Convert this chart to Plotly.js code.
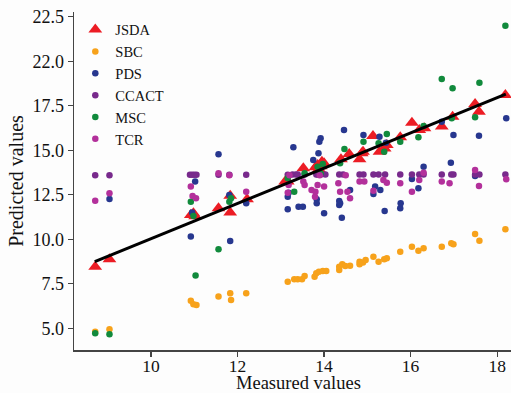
<!DOCTYPE html>
<html><head><meta charset="utf-8">
<script src="https://cdn.plot.ly/plotly-3.0.1.min.js"></script>
<style>html,body{margin:0;padding:0;background:#fdfdfd}#c{width:511px;height:393px}</style>
</head><body><div id="c"></div>
<script>
const jsdaX=[8.71,9.04,10.92,10.98,11.02,11.56,11.83,11.83,12.22,13.10,13.16,13.52,13.80,13.85,13.88,13.92,13.95,14.00,14.39,14.58,14.82,14.87,14.90,15.13,15.28,15.40,15.45,15.76,16.03,16.20,16.32,16.72,16.97,17.49,17.58,18.19];
const jsdaY=[8.46,8.88,11.36,11.46,11.30,11.74,11.50,12.45,12.25,13.24,13.24,13.99,14.05,14.17,13.95,14.10,14.35,14.27,14.49,14.79,14.49,14.83,14.92,15.80,14.92,15.10,15.30,15.73,16.55,16.14,16.24,16.33,16.89,17.60,17.17,18.10];
const sbcX=[8.71,9.04,10.92,10.98,11.05,11.56,11.83,11.85,12.20,13.16,13.31,13.39,13.49,13.55,13.78,13.82,13.88,13.97,14.05,14.35,14.35,14.42,14.49,14.60,14.82,14.82,14.90,14.96,15.14,15.26,15.39,15.45,15.76,16.03,16.18,16.30,16.72,16.94,16.99,17.49,17.59,18.19];
const sbcY=[4.81,4.94,6.55,6.35,6.31,6.78,6.97,6.59,6.97,7.62,7.75,7.75,7.75,7.94,7.90,8.09,8.18,8.22,8.22,8.28,8.46,8.60,8.50,8.52,8.60,8.74,8.69,8.84,9.02,8.74,8.88,8.93,9.30,9.58,9.36,9.49,9.58,9.78,9.72,10.30,9.92,10.56];
const pdsX=[9.04,10.92,11.02,10.95,11.56,11.83,11.81,12.20,13.16,13.16,13.41,13.51,13.83,13.83,14.00,14.35,14.35,14.41,15.40,15.76,15.77,13.29,13.92,13.89,13.87,13.75,14.46,13.18,14.91,15.28,15.43,16.72,16.30,14.60,15.18,15.14,15.30,18.21,16.99,17.58,16.93,17.49,16.03,16.18,14.37];
const pdsY=[12.26,10.15,13.24,11.50,14.78,9.90,12.49,12.02,12.39,11.69,11.83,11.83,12.02,12.25,11.46,12.15,11.93,11.21,11.59,11.74,12.02,15.17,15.67,15.48,14.83,14.45,16.14,12.62,15.86,15.76,15.43,16.60,14.08,12.77,12.96,12.54,12.77,16.80,15.86,15.82,14.30,13.56,13.39,12.87,12.02];
const ccactX=[8.71,9.04,10.90,10.95,11.00,11.05,11.56,11.81,12.20,13.16,13.27,13.35,13.39,13.55,13.82,13.85,13.92,14.03,14.35,14.44,14.82,14.91,15.14,15.26,15.41,15.76,16.03,16.20,16.30,16.72,16.94,16.99,17.49,17.59,18.19];
const ccactY=[13.60,13.60,13.62,13.62,13.62,13.62,13.62,13.62,13.62,13.62,13.64,13.64,13.64,13.64,13.64,13.64,13.64,13.64,13.64,13.64,13.64,13.64,13.64,13.64,13.64,13.64,13.64,13.64,13.64,13.64,13.64,13.64,13.64,13.64,13.64];
const mscX=[8.71,9.04,11.03,11.56,10.92,10.98,11.81,11.85,13.16,13.31,13.55,13.85,13.92,13.97,14.37,14.47,14.91,15.26,15.39,15.45,15.76,16.18,16.30,16.72,16.97,16.95,17.49,17.59,18.19];
const mscY=[4.72,4.66,7.96,9.44,12.11,11.31,12.11,12.30,13.43,12.67,13.71,14.08,13.71,14.23,14.27,15.07,15.48,15.39,14.92,15.92,15.48,15.73,16.37,19.00,18.48,16.80,16.85,18.80,22.00];
const tcrX=[8.71,9.04,10.92,10.96,11.04,11.56,11.81,12.20,13.18,13.16,13.52,13.55,13.71,13.79,13.80,13.85,14.00,14.33,14.37,14.54,14.60,14.82,14.93,15.14,15.37,15.45,15.76,16.03,16.20,16.30,16.72,16.90,17.49,17.58,18.21,13.20,13.90,14.50];
const tcrY=[12.17,12.58,12.96,12.43,12.30,13.71,13.60,12.67,13.05,12.62,13.24,13.05,12.77,12.39,12.67,13.05,12.96,13.15,12.67,12.67,12.30,13.24,13.24,12.73,13.33,13.18,13.15,12.67,13.33,13.74,13.24,13.15,13.89,13.00,13.37,13.60,13.60,13.60];
const fitX=[8.70,18.20];
const fitY=[8.75,18.15];
const yTickVals=[5,7.5,10,12.5,15,17.5,20,22.5];
const yTickText=["5.0","7.5","10.0","12.5","15.0","17.5","22.0","22.5"];
const xTickVals=[10,12,14,16,18];
const xTitle='Measured values';
const yTitle='Predicted values';

const dot=(name,x,y,color)=>({type:'scatter',mode:'markers',name,x,y,marker:{color,size:6.5,line:{width:0}},cliponaxis:false});
const data=[
 {type:'scatter',mode:'markers',name:'JSDA',x:jsdaX,y:jsdaY,marker:{symbol:'triangle-up',color:'#ec1c24',size:12,line:{width:0}},cliponaxis:false},
 dot('SBC',sbcX,sbcY,'#f7a21b'),
 dot('PDS',pdsX,pdsY,'#27378f'),
 dot('CCACT',ccactX,ccactY,'#782a8c'),
 dot('MSC',mscX,mscY,'#118a3c'),
 dot('TCR',tcrX,tcrY,'#b3309b'),
 {type:'scatter',mode:'lines',x:fitX,y:fitY,line:{color:'#000',width:3},showlegend:false,hoverinfo:'skip'}
];
const font={family:'"Liberation Serif", "Times New Roman", serif',color:'#111'};
const layout={
 width:511,height:393,
 margin:{l:74,r:0,t:12,b:43},
 paper_bgcolor:'#fdfdfd',plot_bgcolor:'#fdfdfd',
 font:font,
 showlegend:true,
 legend:{x:0.003,y:0.995,xanchor:'left',yanchor:'top',bgcolor:'rgba(0,0,0,0)',font:{family:font.family,size:14.5,color:'#111'},itemwidth:30,tracegroupgap:0},
 xaxis:{range:[8.22,18.32],tickvals:xTickVals,ticks:'outside',ticklen:5,tickwidth:1.2,tickcolor:'#444',showline:true,linecolor:'#444',linewidth:1.5,showgrid:false,zeroline:false,
   ticklabelstandoff:-6,
   tickfont:{family:font.family,size:17.5,color:'#111'}},
 yaxis:{range:[3.78,22.77],tickvals:yTickVals,ticktext:yTickText,ticks:'outside',ticklen:5,tickwidth:1.2,tickcolor:'#444',showline:true,linecolor:'#444',linewidth:1.5,showgrid:false,zeroline:false,
   tickfont:{family:font.family,size:18,color:'#111'},title:{text:yTitle,font:{family:font.family,size:20,color:'#111'},standoff:3}},
 annotations:[{text:xTitle,xref:'paper',yref:'paper',x:0.513,y:-0.098,xanchor:'center',yanchor:'middle',showarrow:false,font:{family:font.family,size:18.5,color:'#111'}}]
};
Plotly.newPlot('c',data,layout,{displayModeBar:false,staticPlot:true});
</script></body></html>
